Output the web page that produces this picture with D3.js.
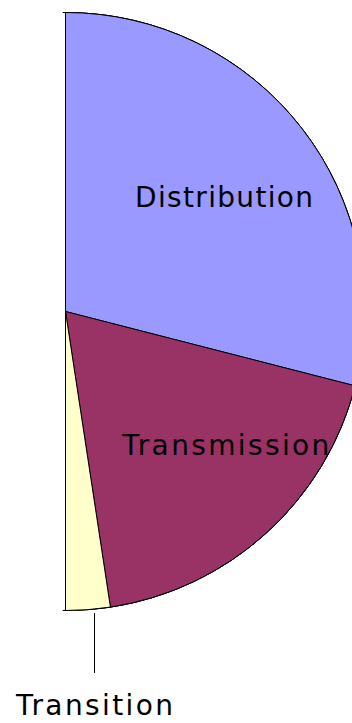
<!DOCTYPE html>
<html>
<head>
<meta charset="utf-8">
<script src="https://cdn.jsdelivr.net/npm/d3@7"></script>
<style>
  html, body { margin: 0; padding: 0; background: #fff; }
  svg { display: block; }
</style>
</head>
<body>
<div id="chart"></div>
<script>
// slice names and their share of the half pie (%)
const categories = ["Distribution", "Transmission", "Transition"];
const values = [58, 37.2, 4.8];
const colors = ["#9999ff", "#993366", "#ffffcc"];

var svgWidth = 352, svgHeight = 723;
var cx = 65.5, cy = 311.5, radius = 299;

var data = categories.map(function(c, i) {
  return { name: c, value: values[i], color: colors[i] };
});

var svg = d3.select("#chart")
  .append("svg")
    .attr("width", svgWidth)
    .attr("height", svgHeight);

var g = svg.append("g")
    .attr("transform", "translate(" + cx + "," + cy + ")");

var pie = d3.pie()
    .sort(null)
    .startAngle(0)
    .endAngle(Math.PI)
    .value(function(d) { return d.value; });

var arc = d3.arc().innerRadius(0).outerRadius(radius);
var labelArc = d3.arc().innerRadius(radius * 0.65).outerRadius(radius * 0.65);

var arcs = pie(data);

// faint continuation of the outline past the straight edge
g.append("path")
    .attr("d", d3.arc().innerRadius(radius).outerRadius(radius)
      .startAngle(-0.009).endAngle(Math.PI + 0.009)())
    .attr("fill", "none")
    .attr("stroke", "#000")
    .attr("stroke-width", 1);

g.selectAll("path.slice")
  .data(arcs)
  .enter().append("path")
    .attr("class", "slice")
    .attr("d", arc)
    .attr("fill", function(d) { return d.data.color; })
    .attr("stroke", "#000")
    .attr("stroke-width", 1)
    .attr("stroke-linejoin", "round");

// label tweaks: [dx, dy, textLength]
var labelStyle = {
  "Distribution": [5, 15, 178],
  "Transmission": [30, -1, 207],
  "Transition": [0, 0, 157]
};

arcs.forEach(function(d) {
  var s = labelStyle[d.data.name];
  if (d.data.name === "Transition") {
    var mid = (d.startAngle + d.endAngle) / 2;
    var x = Math.sin(mid) * radius + 6.5;
    var yArc = Math.sqrt(radius * radius - x * x);
    g.append("line")
        .attr("x1", x).attr("x2", x)
        .attr("y1", yArc + 4).attr("y2", yArc + 64)
        .attr("stroke", "#000")
        .attr("stroke-width", 1);
    g.append("text")
        .attr("x", x)
        .attr("y", yArc + 105.5)
        .attr("text-anchor", "middle")
        .attr("font-family", "DejaVu Sans, Verdana, sans-serif")
        .attr("font-size", 28)
        .attr("textLength", s[2])
        .attr("lengthAdjust", "spacing")
        .attr("fill", "#000")
        .text(d.data.name);
  } else {
    var c = labelArc.centroid(d);
    g.append("text")
        .attr("x", c[0] + s[0])
        .attr("y", c[1] + s[1])
        .attr("text-anchor", "middle")
        .attr("font-family", "DejaVu Sans, Verdana, sans-serif")
        .attr("font-size", 28)
        .attr("textLength", s[2])
        .attr("lengthAdjust", "spacing")
        .attr("fill", "#000")
        .text(d.data.name);
  }
});
</script>
</body>
</html>
